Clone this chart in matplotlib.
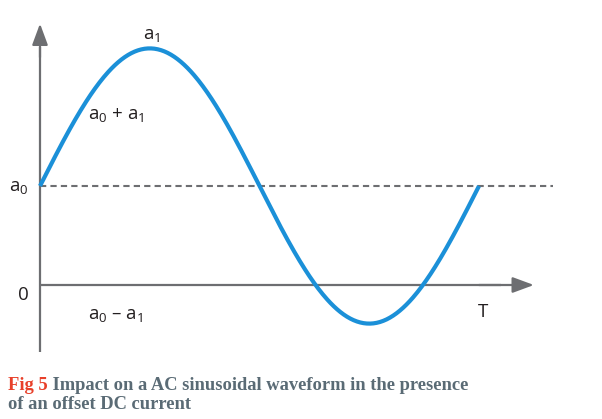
import numpy as np
import matplotlib.pyplot as plt

# waveform parameters (units: a0 = 1, period T = 1)
a0 = 1.0
a1 = 1.39
period = 1.0
labels = ["a$_1$", "a$_0$ + a$_1$", "a$_0$", "0", "a$_0$ – a$_1$", "T"]
caption_tag = "Fig 5"
caption_text = " Impact on a AC sinusoidal waveform in the presence"
caption_text2 = "of an offset DC current"

plt.rcParams['font.family'] = ['Open Sans', 'DejaVu Sans']
plt.rcParams['mathtext.fontset'] = 'custom'
plt.rcParams['mathtext.rm'] = 'Open Sans'
plt.rcParams['mathtext.it'] = 'Open Sans'

gray = '#6d6e71'
blue = '#1b90d8'

fig = plt.figure(figsize=(6.02, 4.19), dpi=100)
ax = fig.add_axes([0, 0, 1, 1])
ax.set_xlim(-40 / 439, 562 / 439)
ax.set_ylim(-134 / 99, 285 / 99)
ax.axis('off')

t = np.linspace(0, period, 400)
wave = a0 + a1 * np.sin(2 * np.pi * t / period)

# offset line
ax.plot([0, 1.168], [a0, a0], color=gray, lw=1.5, ls=(0, (3, 2)))
# axes with arrows
ax.plot([0, 0], [-0.68, 2.4], color=gray, lw=1.6, solid_capstyle='butt')
ax.annotate('', xy=(0, 2.64), xytext=(0, 2.3),
            arrowprops=dict(arrowstyle='-|>,head_length=0.65,head_width=0.24',
                            mutation_scale=20, color=gray, lw=1.6, shrinkA=0, shrinkB=0))
ax.plot([0, 1.05], [0, 0], color=gray, lw=1.6, solid_capstyle='butt')
ax.annotate('', xy=(1.125, 0), xytext=(1.0, 0),
            arrowprops=dict(arrowstyle='-|>,head_length=0.65,head_width=0.24',
                            mutation_scale=20, color=gray, lw=1.6, shrinkA=0, shrinkB=0))

ax.plot(t, wave, color=blue, lw=3.0, solid_capstyle='butt')

fs = 13.5
ax.text(0.255, 2.53, labels[0], fontsize=fs, ha='center', va='center', color='#231f20')
ax.text(0.11, 1.72, labels[1], fontsize=fs, ha='left', va='center', color='#231f20')
ax.text(-0.07, 0.99, labels[2], fontsize=fs, ha='left', va='center', color='#231f20')
ax.text(-0.037, -0.1, labels[3], fontsize=fs, ha='center', va='center', color='#231f20')
ax.text(0.11, -0.3, labels[4], fontsize=fs, ha='left', va='center', color='#231f20')
ax.text(1.009, -0.27, labels[5], fontsize=fs, ha='center', va='center', color='#231f20')

cap = dict(fontsize=13.3, fontweight='bold', family='Liberation Serif')
t1 = fig.text(8 / 602, 1 - 390 / 419, caption_tag, color='#e8402a',
              va='baseline', ha='left', **cap)
ax.annotate(caption_text, xy=(1, 0), xycoords=t1, color='#5a6b75',
            va='bottom', ha='left', **cap)
fig.text(8 / 602, 1 - 409 / 419, caption_text2, color='#5a6b75',
         va='baseline', ha='left', **cap)

fig.savefig('out.png', dpi=100)
